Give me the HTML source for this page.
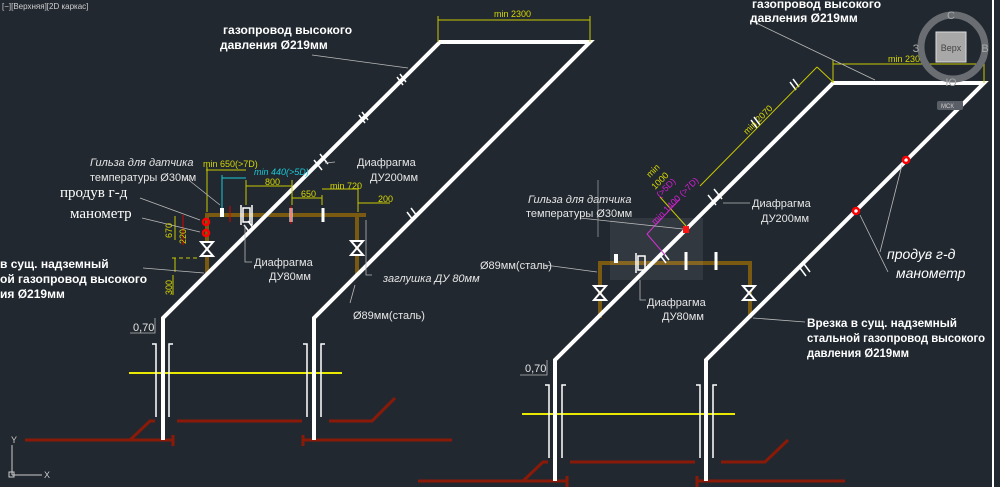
<!DOCTYPE html>
<html><head><meta charset="utf-8"><style>
html,body{margin:0;padding:0;background:#212830;}
svg{display:block}
text{font-family:"Liberation Sans",sans-serif;}
.w{fill:#fff;font-size:12px;font-weight:bold}
.n{fill:#e6e6e6;font-size:11px}
.it{fill:#e6e6e6;font-size:11px;font-style:italic}
.y{fill:#d8d800;font-size:9px}
.c{fill:#1cc8d8;font-size:9px;font-style:italic}
.m{fill:#d020d0;font-size:9px}
.serif{font-family:"Liberation Serif",serif !important;}
</style></head><body>
<svg width="1000" height="487" viewBox="0 0 1000 487" xmlns="http://www.w3.org/2000/svg">
<rect width="1000" height="487" fill="#212830"/>
<text x="2" y="9" fill="#cfcfcf" font-size="8">[−][Верхняя][2D каркас]</text>

<g stroke="#8a1a08" stroke-width="3" fill="none">
<polyline points="25,440 173,440"/><line x1="173" y1="435" x2="173" y2="446"/>
<polyline points="130,440 150,421 155,421"/>
<line x1="177" y1="421" x2="302" y2="421"/>
<line x1="303" y1="440" x2="452" y2="440"/><line x1="303" y1="435" x2="303" y2="446"/>
<polyline points="329,421 372,421 395,398"/>
<line x1="418" y1="481" x2="567" y2="481"/><line x1="567" y1="476" x2="567" y2="487"/>
<polyline points="523,481 543,462 548,462"/>
<line x1="570" y1="462" x2="695" y2="462"/>
<line x1="697" y1="481" x2="845" y2="481"/><line x1="697" y1="476" x2="697" y2="487"/>
<polyline points="721,462 765,462 788,440"/>
</g>
<line x1="129" y1="373" x2="342" y2="373" stroke="#e8e800" stroke-width="2"/>
<line x1="522" y1="414" x2="735" y2="414" stroke="#e8e800" stroke-width="2"/>
<g stroke="#fff" stroke-width="1.5" fill="none">
<polyline points="152,344 156,344 156,417"/><polyline points="173,344 169,344 169,417"/>
<polyline points="303,344 307,344 307,417"/><polyline points="325,344 321,344 321,417"/>
<polyline points="545,385 549,385 549,458"/><polyline points="566,385 562,385 562,458"/>
<polyline points="696,385 700,385 700,458"/><polyline points="717,385 713,385 713,458"/>
</g>

<g stroke="#7a5a10" stroke-width="4" fill="none">
<polyline points="207,274 207,215 366,215"/>
<polyline points="357,215 357,275"/>
<polyline points="600,318 600,263 750,263 750,318"/>
</g>
<g stroke="#fff" stroke-width="2" fill="#212830">
<path d="M201,242 L213,242 L201,256 L213,256 Z"/>
<path d="M351,241 L363,241 L351,255 L363,255 Z"/>
<path d="M594,286 L606,286 L594,300 L606,300 Z"/>
<path d="M743,286 L755,286 L743,300 L755,300 Z"/>
</g>

<g stroke="#fff" stroke-width="4" fill="none" stroke-linejoin="miter">
<polyline points="163,440 163,318 440,42 590,42 314,318 314,440"/>
<polyline points="555,481 555,360 833,83 984,83 706,360 706,481"/>
</g>
<g stroke="#fff" stroke-width="1.5">
<line x1="397" y1="77" x2="403" y2="85"/><line x1="400" y1="74" x2="406" y2="82"/>
<line x1="359" y1="115" x2="365" y2="123"/><line x1="362" y1="112" x2="368" y2="120"/>
<line x1="314" y1="160" x2="322" y2="170"/><line x1="320" y1="154" x2="328" y2="164"/>
<line x1="407" y1="212" x2="413" y2="220"/><line x1="411" y1="208" x2="417" y2="216"/>
<line x1="244" y1="225" x2="250" y2="233"/><line x1="248" y1="221" x2="254" y2="229"/>
<line x1="751" y1="120" x2="757" y2="128"/><line x1="754" y1="117" x2="760" y2="125"/>
<line x1="790" y1="82" x2="796" y2="90"/><line x1="793" y1="79" x2="799" y2="87"/>
<line x1="708" y1="195" x2="716" y2="205"/><line x1="714" y1="189" x2="722" y2="199"/>
<line x1="800" y1="268" x2="806" y2="276"/><line x1="804" y1="264" x2="810" y2="272"/>
<line x1="660" y1="255" x2="666" y2="263"/><line x1="663" y1="252" x2="669" y2="260"/>
</g>
<g stroke="#fff" stroke-width="1.5" fill="none">
<rect x="243" y="208" width="7" height="14"/><line x1="241" y1="205" x2="241" y2="225"/><line x1="252" y1="205" x2="252" y2="225"/>
<line x1="291" y1="208" x2="291" y2="222" stroke-width="3"/><line x1="323" y1="208" x2="323" y2="222" stroke-width="3"/>
<rect x="638" y="256" width="7" height="14"/><line x1="636" y1="253" x2="636" y2="273"/>
<line x1="686" y1="252" x2="686" y2="270" stroke-width="3"/><line x1="716" y1="252" x2="716" y2="270" stroke-width="3"/>
</g>
<rect x="220" y="208" width="4" height="9" fill="#fff"/>
<rect x="614" y="254" width="4" height="9" fill="#fff"/>
<line x1="230" y1="206" x2="230" y2="222" stroke="#d00" stroke-width="1"/>
<line x1="291" y1="206" x2="291" y2="224" stroke="#d00" stroke-width="1"/>
<g fill="none" stroke="#f00" stroke-width="2.5">
<circle cx="206" cy="222" r="3"/><circle cx="206" cy="233" r="3"/>
<circle cx="906" cy="160" r="3"/><circle cx="856" cy="211" r="3"/>
</g>
<rect x="683" y="226" width="6" height="7" fill="#f00"/>
<line x1="183" y1="215" x2="183" y2="245" stroke="#d00" stroke-width="1"/>

<g stroke="#c8c800" stroke-width="1" fill="none">
<line x1="438" y1="20" x2="590" y2="20"/><line x1="438" y1="16" x2="438" y2="42"/><line x1="590" y1="16" x2="590" y2="42"/>
<line x1="206" y1="170" x2="246" y2="170"/><line x1="207" y1="167" x2="207" y2="212"/>
<line x1="246" y1="186" x2="292" y2="186"/><line x1="246" y1="180" x2="246" y2="205"/><line x1="292" y1="180" x2="292" y2="205"/>
<line x1="292" y1="198" x2="322" y2="198"/><line x1="322" y1="195" x2="322" y2="205"/>
<line x1="322" y1="189" x2="358" y2="189"/><line x1="358" y1="185" x2="358" y2="212"/>
<line x1="358" y1="203" x2="390" y2="203"/>
<line x1="175" y1="216" x2="175" y2="240"/><line x1="175" y1="258" x2="175" y2="272"/><line x1="172" y1="258" x2="200" y2="258" stroke-dasharray="4,3"/>
<line x1="173" y1="275" x2="173" y2="295"/>
<line x1="833" y1="64" x2="984" y2="64"/><line x1="833" y1="60" x2="833" y2="83"/><line x1="984" y1="60" x2="984" y2="83"/>
<line x1="700" y1="186" x2="817" y2="67"/><line x1="817" y1="67" x2="833" y2="82"/>
<line x1="660" y1="197" x2="686" y2="226"/>
</g>
<g stroke="#1cc8d8" stroke-width="1" fill="none"><line x1="222" y1="178" x2="246" y2="178"/><line x1="222" y1="175" x2="222" y2="208"/></g>
<g stroke="#d020d0" stroke-width="1" fill="none"><line x1="647" y1="234" x2="680" y2="199"/><line x1="647" y1="234" x2="665" y2="255"/></g>

<g stroke="#bbb" stroke-width="0.8" fill="none">
<line x1="312" y1="55" x2="408" y2="68"/>
<line x1="185" y1="177" x2="220" y2="205"/>
<line x1="140" y1="198" x2="200" y2="220"/><line x1="142" y1="218" x2="200" y2="232"/>
<line x1="143" y1="268" x2="204" y2="273"/>
<line x1="335" y1="162" x2="325" y2="163"/>
<polyline points="245,225 245,262 252,262"/>
<polyline points="366,220 366,275 372,275"/>
<polyline points="355,285 350,303"/>
<line x1="750" y1="20" x2="875" y2="80"/>
<line x1="580" y1="218" x2="683" y2="229"/>
<line x1="723" y1="203" x2="750" y2="203"/>
<polyline points="640,280 640,300 646,300"/>
<line x1="545" y1="265" x2="597" y2="272"/>
<line x1="880" y1="252" x2="902" y2="165"/><line x1="888" y1="272" x2="860" y2="215"/>
<line x1="753" y1="318" x2="805" y2="322"/>
<polyline points="130,333 155,333 155,318"/>
<polyline points="520,375 547,375 547,360"/>
</g>
<rect x="610" y="218" width="93" height="62" fill="#fff" fill-opacity="0.08"/>
<line x1="598" y1="180" x2="598" y2="237" stroke="#999" stroke-width="0.8"/>

<text class="w" x="223" y="34">газопровод высокого</text>
<text class="w" x="220" y="49">давления Ø219мм</text>
<text class="y" x="494" y="17" font-size="10">min 2300</text>
<text class="it" x="90" y="166" font-size="10">Гильза для датчика</text>
<text class="n" x="90" y="181" font-size="10">температуры Ø30мм</text>
<text class="serif" x="60" y="197" fill="#fff" font-size="15" style="font-family:'Liberation Serif',serif">продув г-д</text>
<text class="serif" x="70" y="218" fill="#fff" font-size="15" style="font-family:'Liberation Serif',serif">манометр</text>
<text class="w" x="0" y="268">в сущ. надземный</text>
<text class="w" x="0" y="283">ой газопровод высокого</text>
<text class="w" x="0" y="298">ия Ø219мм</text>
<text class="n" x="357" y="166">Диафрагма</text>
<text class="n" x="370" y="181">ДУ200мм</text>
<text class="n" x="254" y="266">Диафрагма</text>
<text class="n" x="269" y="280">ДУ80мм</text>
<text class="it" x="383" y="282" font-size="10">заглушка ДУ 80мм</text>
<text class="n" x="353" y="319">Ø89мм(сталь)</text>
<text class="n" x="133" y="331" font-size="10">0,70</text>
<text class="y" x="203" y="167">min 650(&gt;7D)</text>
<text class="c" x="254" y="175">min 440(&gt;5D)</text>
<text class="y" x="265" y="185">800</text>
<text class="y" x="301" y="197">650</text>
<text class="y" x="330" y="189">min 720</text>
<text class="y" x="378" y="202">200</text>
<text class="y" x="172" y="238" transform="rotate(-90 172 238)">670</text>
<text class="y" x="172" y="295" transform="rotate(-90 172 295)">300</text>
<text class="y" x="186" y="244" transform="rotate(-90 186 244)" fill="#d00">220</text>

<text class="w" x="752" y="8">газопровод высокого</text>
<text class="w" x="750" y="22">давления Ø219мм</text>
<text class="y" x="888" y="62" font-size="10">min 2300</text>
<text class="y" x="747" y="135" transform="rotate(-45 747 135)">min 2070</text>
<text class="y" x="650" y="178" transform="rotate(-45 650 178)">min</text>
<text class="y" x="655" y="190" transform="rotate(-45 655 190)">1000</text>
<text class="m" x="660" y="198" transform="rotate(-45 660 198)">(&gt;5D)</text>
<text class="m" x="655" y="225" transform="rotate(-45 655 225)">min 1400 (&gt;7D)</text>
<text class="it" x="528" y="203" font-size="10" fill="#bbb">Гильза для датчика</text>
<text class="n" x="526" y="217" font-size="10">температуры Ø30мм</text>
<text class="n" x="752" y="207">Диафрагма</text>
<text class="n" x="761" y="222">ДУ200мм</text>
<text class="n" x="480" y="269" font-size="12">Ø89мм(сталь)</text>
<text class="n" x="647" y="306">Диафрагма</text>
<text class="n" x="662" y="320">ДУ80мм</text>
<text x="887" y="259" fill="#fff" font-size="14" font-style="italic">продув г-д</text>
<text x="896" y="278" fill="#fff" font-size="14" font-style="italic">манометр</text>
<text class="w" x="807" y="327" textLength="150" lengthAdjust="spacingAndGlyphs">Врезка в сущ. надземный</text>
<text class="w" x="807" y="342" textLength="178" lengthAdjust="spacingAndGlyphs">стальной газопровод высокого</text>
<text class="w" x="807" y="357" textLength="102" lengthAdjust="spacingAndGlyphs">давления Ø219мм</text>
<text class="n" x="525" y="372" font-size="10">0,70</text>

<line x1="993" y1="0" x2="993" y2="487" stroke="#fff" stroke-width="2"/>
<circle cx="953" cy="47" r="32" fill="none" stroke="#6a6e72" stroke-width="7"/>
<rect x="936" y="32" width="30" height="30" fill="#a8a8a8" stroke="#ddd"/>
<text x="951" y="51" fill="#444" font-size="9" text-anchor="middle">Верх</text>
<text x="951" y="19" fill="#aaa" font-size="11" text-anchor="middle">С</text>
<text x="916" y="52" fill="#aaa" font-size="11" text-anchor="middle">З</text>
<text x="985" y="52" fill="#aaa" font-size="11" text-anchor="middle">В</text>
<text x="951" y="86" fill="#aaa" font-size="11" text-anchor="middle">Ю</text>
<rect x="937" y="101" width="26" height="9" rx="2" fill="#5a5e66"/>
<text x="941" y="108" fill="#ccc" font-size="6">МСК</text>
<g stroke="#ccc" stroke-width="1" fill="none">
<line x1="12" y1="445" x2="12" y2="475"/><line x1="12" y1="475" x2="42" y2="475"/>
<rect x="9" y="472" width="5" height="5"/>
</g>
<text x="11" y="443" fill="#ccc" font-size="9">Y</text>
<text x="44" y="478" fill="#ccc" font-size="9">X</text>
</svg>
</body></html>
